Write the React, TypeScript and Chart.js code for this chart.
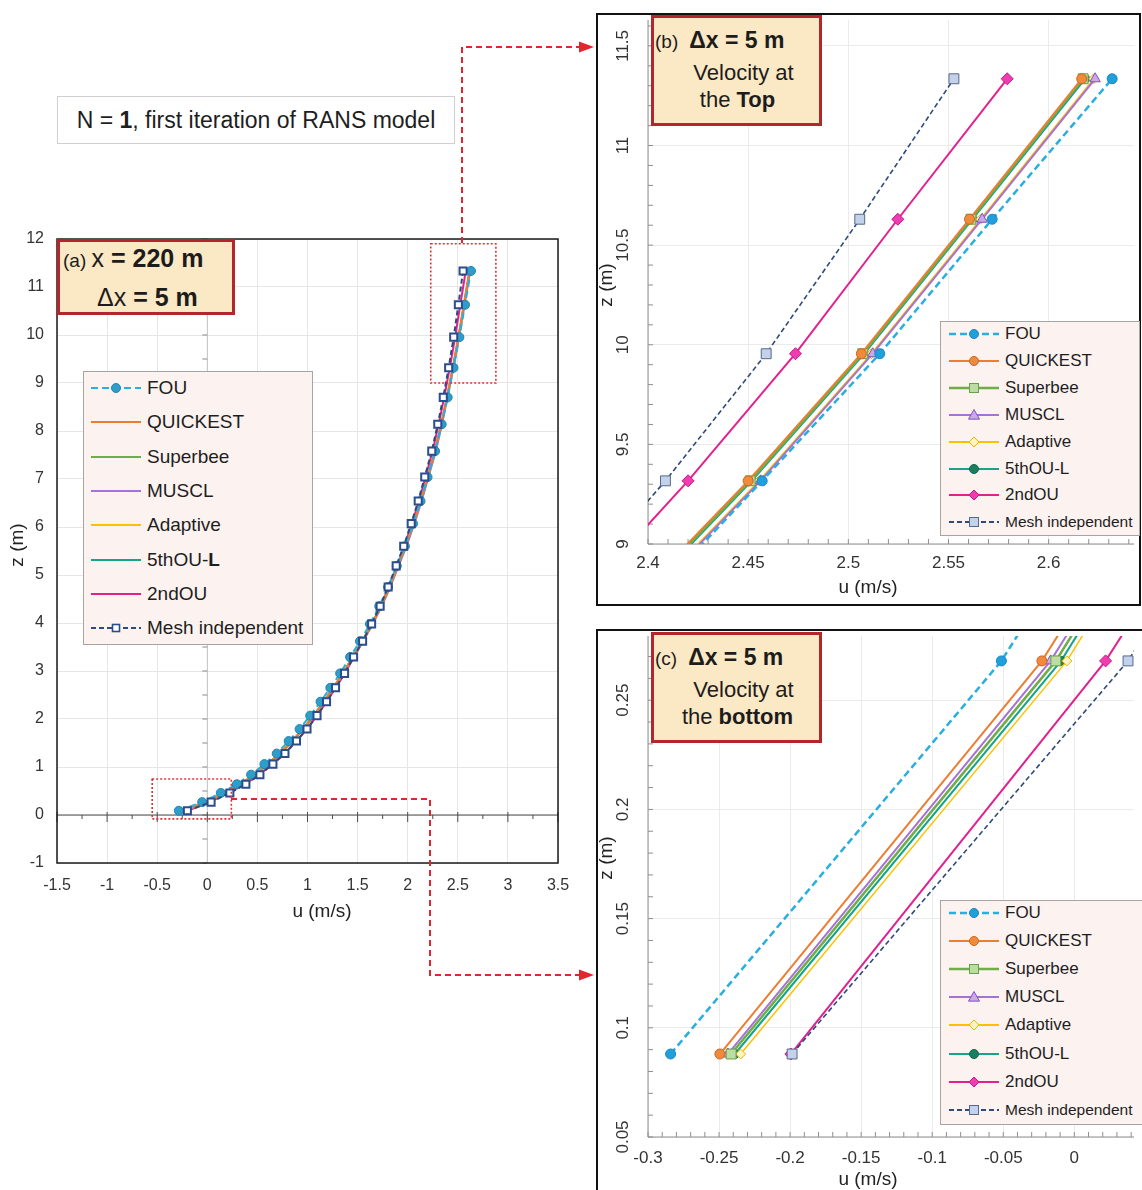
import React, { useEffect, useRef } from 'react';
import { Chart, registerables } from 'chart.js';

Chart.register(...registerables);

const FONT = '"Liberation Sans", Arial, Helvetica, sans-serif';

const SCHEMES = ['FOU', 'QUICKEST', 'Superbee', 'MUSCL', 'Adaptive', '5thOU-L', '2ndOU', 'Mesh independent'];

// vertical grid levels of the first RANS iteration (m)
const Z_LEVELS = [0.088, 0.268, 0.46, 0.64, 0.84, 1.06, 1.28, 1.54, 1.79, 2.07, 2.36, 2.65, 2.95, 3.29, 3.62, 3.98, 4.35, 4.75, 5.19, 5.6, 6.07, 6.54, 7.04, 7.58, 8.14, 8.7, 9.317, 9.955, 10.63, 11.335];

// streamwise velocity u (m/s) at x = 220 m for each advection scheme
const U_FOU = [-0.2841, -0.0513, 0.135, 0.295, 0.437, 0.57, 0.693, 0.812, 0.921, 1.027, 1.13, 1.228, 1.326, 1.425, 1.524, 1.623, 1.716, 1.804, 1.891, 1.972, 2.053, 2.128, 2.198, 2.273, 2.339, 2.399, 2.457, 2.5157, 2.5718, 2.6317];
const U_QUICKEST = [-0.2494, -0.0228, 0.163, 0.324, 0.466, 0.599, 0.723, 0.842, 0.952, 1.058, 1.159, 1.255, 1.352, 1.449, 1.545, 1.641, 1.731, 1.816, 1.9, 1.979, 2.057, 2.13, 2.198, 2.271, 2.334, 2.391, 2.45, 2.5065, 2.5605, 2.6165];
const U_SUPERBEE = [-0.2415, -0.013, 0.171, 0.332, 0.473, 0.605, 0.729, 0.847, 0.956, 1.062, 1.162, 1.258, 1.354, 1.451, 1.547, 1.642, 1.732, 1.817, 1.901, 1.98, 2.058, 2.131, 2.199, 2.272, 2.335, 2.392, 2.451, 2.5072, 2.5612, 2.6172];
const U_MUSCL = [-0.2438, -0.0167, 0.168, 0.33, 0.472, 0.605, 0.73, 0.849, 0.959, 1.066, 1.167, 1.264, 1.361, 1.458, 1.554, 1.65, 1.74, 1.825, 1.909, 1.988, 2.066, 2.139, 2.207, 2.28, 2.342, 2.397, 2.4562, 2.5122, 2.5668, 2.6232];
const U_ADAPTIVE = [-0.2348, -0.0052, 0.177, 0.338, 0.479, 0.611, 0.735, 0.853, 0.962, 1.068, 1.168, 1.264, 1.36, 1.459, 1.555, 1.651, 1.74, 1.824, 1.906, 1.985, 2.064, 2.137, 2.205, 2.278, 2.341, 2.396, 2.4555, 2.5115, 2.566, 2.6225];
const U_5THOU_L = [-0.2389, -0.0093, 0.174, 0.335, 0.476, 0.608, 0.731, 0.849, 0.958, 1.063, 1.163, 1.259, 1.355, 1.452, 1.548, 1.643, 1.733, 1.818, 1.902, 1.981, 2.059, 2.132, 2.2, 2.273, 2.336, 2.393, 2.4518, 2.508, 2.562, 2.6182];
const U_2NDOU = [-0.1995, 0.022, 0.211, 0.373, 0.515, 0.647, 0.769, 0.886, 0.993, 1.095, 1.191, 1.282, 1.373, 1.464, 1.555, 1.645, 1.731, 1.811, 1.892, 1.967, 2.042, 2.113, 2.178, 2.248, 2.309, 2.364, 2.42, 2.4736, 2.5247, 2.5793];
const U_MESH = [-0.1986, 0.0378, 0.225, 0.385, 0.525, 0.655, 0.775, 0.89, 0.995, 1.095, 1.19, 1.28, 1.37, 1.46, 1.55, 1.64, 1.725, 1.805, 1.885, 1.96, 2.035, 2.105, 2.17, 2.24, 2.3, 2.355, 2.4087, 2.459, 2.5057, 2.5527];

const PROFILES = [U_FOU, U_QUICKEST, U_SUPERBEE, U_MUSCL, U_ADAPTIVE, U_5THOU_L, U_2NDOU, U_MESH];

const X_TICKS_A = [-1.5, -1, -0.5, 0, 0.5, 1, 1.5, 2, 2.5, 3, 3.5];
const Y_TICKS_A = [-1, 0, 1, 2, 3, 4, 5, 6, 7, 8, 9, 10, 11, 12];
const X_TICKS_B = [2.4, 2.45, 2.5, 2.55, 2.6];
const Y_TICKS_B = [9, 9.5, 10, 10.5, 11, 11.5];
const X_TICKS_C = [-0.3, -0.25, -0.2, -0.15, -0.1, -0.05, 0];
const Y_TICKS_C = [0.05, 0.1, 0.15, 0.2, 0.25];

type Style = { line: string; width: number; dash: number[]; shape: string; fill: string; edge: string; r: number };

const STYLES: Style[] = [
  { line: '#29aee0', width: 2.5, dash: [7, 4], shape: 'circle', fill: '#1f9fdc', edge: '#1a86c2', r: 5 },
  { line: '#ed7d31', width: 2, dash: [], shape: 'circle', fill: '#f08a3c', edge: '#cf651b', r: 5 },
  { line: '#70ad47', width: 2.5, dash: [], shape: 'rect', fill: '#bbdca3', edge: '#68a343', r: 7 },
  { line: '#a672d6', width: 2, dash: [], shape: 'triangle', fill: '#caa9ea', edge: '#8551bf', r: 6 },
  { line: '#ffc000', width: 1.5, dash: [], shape: 'rectRot', fill: '#fff3c4', edge: '#f0b400', r: 5 },
  { line: '#15a488', width: 2, dash: [], shape: 'circle', fill: '#17805f', edge: '#0e684e', r: 4.5 },
  { line: '#e2218f', width: 2, dash: [], shape: 'rectRot', fill: '#ee3db0', edge: '#c8158a', r: 6 },
  { line: '#2e4a7a', width: 1.6, dash: [5, 3], shape: 'rect', fill: '#c3d1ea', edge: '#56698a', r: 7 },
];

const fmt = (v: number) => String(Math.round(v * 1000) / 1000);

function buildDatasets(overview: boolean) {
  return PROFILES.map((u, i) => {
    const s = STYLES[i];
    const marked = !overview || i === 0 || i === 7;
    let fill = s.fill;
    let edge = s.edge;
    let r = s.r;
    let bw = 1;
    if (overview && i === 0) { fill = '#2d9dc9'; edge = '#2384ad'; r = 4.5; }
    if (overview && i === 7) { fill = '#ffffff'; edge = '#2b4d8c'; r = 5; bw = 2; }
    return {
      label: SCHEMES[i],
      data: Z_LEVELS.map((z, k) => ({ x: u[k], y: z })),
      borderColor: s.line,
      borderWidth: overview ? 2 : s.width,
      borderDash: s.dash,
      pointStyle: s.shape,
      pointRadius: marked ? r : 0,
      pointHoverRadius: 0,
      pointBackgroundColor: fill,
      pointBorderColor: edge,
      pointBorderWidth: bw,
      tension: 0,
      fill: false,
      // the mesh-independent reference sits on top of the scheme curves
      order: i === 7 ? -1 : i,
    };
  });
}

function seg(ctx: CanvasRenderingContext2D, x1: number, y1: number, x2: number, y2: number) {
  ctx.beginPath();
  ctx.moveTo(x1, y1);
  ctx.lineTo(x2, y2);
  ctx.stroke();
}

function steps(from: number, to: number, step: number) {
  const n = Math.round((to - from) / step);
  const out: number[] = [];
  for (let k = 0; k <= n; k++) out.push(from + k * step);
  return out;
}

// keep the plot area fixed: no extra room for labels overhanging the ends of an axis
function noOverhang(s: any) {
  s.paddingTop = 0;
  s.paddingBottom = 0;
  s.paddingLeft = 0;
  s.paddingRight = 0;
}

// overview panel decorations: reference axes through the origin, zoom windows, frame, titles
const overviewPlugin = {
  id: 'overviewDecor',
  beforeDatasetsDraw(chart: any) {
    const { ctx, chartArea: a, scales } = chart;
    const x = scales.x;
    const y = scales.y;
    ctx.save();
    const y0 = y.getPixelForValue(0);
    const x0 = x.getPixelForValue(0);
    ctx.strokeStyle = '#c4c4c4';
    ctx.lineWidth = 1;
    seg(ctx, x0, a.top, x0, a.bottom);
    ctx.strokeStyle = '#8a8a8a';
    steps(-1, 12, 0.5).forEach((v) => {
      const py = y.getPixelForValue(v);
      seg(ctx, x0 - 5, py, x0, py);
    });
    ctx.strokeStyle = '#4a4a4a';
    seg(ctx, a.left, y0, a.right, y0);
    steps(-1.5, 3.5, 0.25).forEach((v) => {
      const px = x.getPixelForValue(v);
      const major = Math.abs(v * 2 - Math.round(v * 2)) < 1e-6;
      seg(ctx, px, y0 - (major ? 3 : 0), px, y0 + (major ? 7 : 4));
    });
    ctx.restore();
  },
  afterDatasetsDraw(chart: any) {
    const { ctx, scales } = chart;
    const x = scales.x;
    const y = scales.y;
    ctx.save();
    ctx.strokeStyle = '#d8343a';
    ctx.lineWidth = 1.6;
    ctx.setLineDash([2, 2]);
    const boxes = [[2.23, 9.0, 2.88, 11.9], [-0.55, -0.08, 0.24, 0.75]];
    boxes.forEach(([u1, z1, u2, z2]) => {
      const px1 = x.getPixelForValue(u1);
      const px2 = x.getPixelForValue(u2);
      const py1 = y.getPixelForValue(z2);
      const py2 = y.getPixelForValue(z1);
      ctx.strokeRect(px1, py1, px2 - px1, py2 - py1);
    });
    ctx.restore();
  },
  afterDraw(chart: any) {
    const { ctx, chartArea: a } = chart;
    ctx.save();
    ctx.strokeStyle = '#1a1a1a';
    ctx.lineWidth = 1.5;
    ctx.strokeRect(a.left, a.top, a.right - a.left, a.bottom - a.top);
    ctx.fillStyle = '#222';
    ctx.font = `19px ${FONT}`;
    ctx.textAlign = 'center';
    ctx.textBaseline = 'middle';
    ctx.fillText('u (m/s)', 322, 683);
    ctx.translate(18, 316);
    ctx.rotate(-Math.PI / 2);
    ctx.fillText('z (m)', 0, 0);
    ctx.restore();
  },
};

type ZoomOpts = {
  yTicks: number[];
  xMinor: [number, number, number];
  yMinor: [number, number, number];
  xTitle: [number, number];
  yTitle: [number, number];
  frame: [number, number, number, number];
};

function zoomPlugin(o: ZoomOpts) {
  return {
    id: 'zoomDecor',
    beforeDatasetsDraw(chart: any) {
      const { ctx, chartArea: a, scales } = chart;
      const x = scales.x;
      const y = scales.y;
      ctx.save();
      ctx.strokeStyle = '#8f8f8f';
      ctx.lineWidth = 1;
      seg(ctx, a.left, a.top, a.left, a.bottom);
      seg(ctx, a.left, a.bottom, a.right, a.bottom);
      steps(o.xMinor[0], o.xMinor[1], o.xMinor[2]).forEach((v) => {
        const px = x.getPixelForValue(v);
        seg(ctx, px, a.bottom, px, a.bottom - 5);
      });
      steps(o.yMinor[0], o.yMinor[1], o.yMinor[2]).forEach((v) => {
        const py = y.getPixelForValue(v);
        seg(ctx, a.left, py, a.left + 5, py);
      });
      ctx.restore();
    },
    afterDraw(chart: any) {
      const { ctx, scales } = chart;
      const y = scales.y;
      ctx.save();
      ctx.fillStyle = '#333';
      ctx.font = `17px ${FONT}`;
      ctx.textAlign = 'center';
      ctx.textBaseline = 'middle';
      o.yTicks.forEach((v) => {
        ctx.save();
        ctx.translate(27, y.getPixelForValue(v));
        ctx.rotate(-Math.PI / 2);
        ctx.fillText(fmt(v), 0, 0);
        ctx.restore();
      });
      ctx.fillStyle = '#222';
      ctx.font = `19px ${FONT}`;
      ctx.fillText('u (m/s)', o.xTitle[0], o.xTitle[1]);
      ctx.save();
      ctx.translate(o.yTitle[0], o.yTitle[1]);
      ctx.rotate(-Math.PI / 2);
      ctx.fillText('z (m)', 0, 0);
      ctx.restore();
      ctx.strokeStyle = '#111';
      ctx.lineWidth = 2;
      const [fx, fy, fw, fh] = o.frame;
      ctx.strokeRect(fx, fy, fw, fh);
      ctx.restore();
    },
  };
}

function overviewConfig() {
  return {
    type: 'line',
    data: { datasets: buildDatasets(true) },
    options: {
      responsive: false,
      animation: false,
      devicePixelRatio: 1,
      events: [],
      layout: { padding: { top: 10, right: 17, bottom: 4, left: 0 } },
      plugins: { legend: { display: false }, tooltip: { enabled: false } },
      scales: {
        x: {
          type: 'linear', min: -1.5, max: 3.5,
          afterBuildTicks: (s: any) => { s.ticks = X_TICKS_A.map((v) => ({ value: v })); },
          afterFit: (s: any) => { s.height = 62; noOverhang(s); },
          grid: { color: '#e6e6e6', drawTicks: false },
          border: { display: false },
          ticks: { padding: 13, autoSkip: false, maxRotation: 0, color: '#333', font: { family: FONT, size: 16 }, callback: (v: number) => fmt(v) },
        },
        y: {
          type: 'linear', min: -1, max: 12,
          afterBuildTicks: (s: any) => { s.ticks = Y_TICKS_A.map((v) => ({ value: v })); },
          afterFit: (s: any) => { s.width = 57; noOverhang(s); },
          grid: { color: '#e6e6e6', drawTicks: false },
          border: { display: false },
          ticks: { padding: 13, autoSkip: false, color: '#333', font: { family: FONT, size: 16 }, callback: (v: number) => fmt(v) },
        },
      },
    },
    plugins: [overviewPlugin],
  };
}

function zoomConfig(p: {
  xMin: number; xMax: number; yMin: number; yMax: number; xTicks: number[]; yTicks: number[];
  padRight: number; xHeight: number; tickPad: number; decor: ZoomOpts;
}) {
  return {
    type: 'line',
    data: { datasets: buildDatasets(false) },
    options: {
      responsive: false,
      animation: false,
      devicePixelRatio: 1,
      events: [],
      layout: { padding: { top: 2, right: p.padRight, bottom: 0, left: 0 } },
      plugins: { legend: { display: false }, tooltip: { enabled: false } },
      scales: {
        x: {
          type: 'linear', min: p.xMin, max: p.xMax,
          afterBuildTicks: (s: any) => { s.ticks = p.xTicks.map((v) => ({ value: v })); },
          afterFit: (s: any) => { s.height = p.xHeight; noOverhang(s); },
          grid: { color: '#ebebeb', drawTicks: false },
          border: { display: false },
          ticks: { padding: p.tickPad, autoSkip: false, maxRotation: 0, color: '#333', font: { family: FONT, size: 17 }, callback: (v: number) => fmt(v) },
        },
        y: {
          type: 'linear', min: p.yMin, max: p.yMax,
          afterBuildTicks: (s: any) => { s.ticks = p.yTicks.map((v) => ({ value: v })); },
          afterFit: (s: any) => { s.width = 52; noOverhang(s); },
          grid: { color: '#ebebeb', drawTicks: false },
          border: { display: false },
          ticks: { display: false },
        },
      },
    },
    plugins: [zoomPlugin(p.decor)],
  };
}

const topConfig = () => zoomConfig({
  xMin: 2.4, xMax: 2.6426, yMin: 9, yMax: 11.63, xTicks: X_TICKS_B, yTicks: Y_TICKS_B,
  padRight: 3, xHeight: 63, tickPad: 9,
  decor: { yTicks: Y_TICKS_B, xMinor: [2.4, 2.64, 0.01], yMinor: [9, 11.6, 0.1], xTitle: [272, 576], yTitle: [11, 273], frame: [1, 2, 543, 591] },
});

const bottomConfig = () => zoomConfig({
  xMin: -0.3, xMax: 0.042, yMin: 0.05, yMax: 0.2794, xTicks: X_TICKS_C, yTicks: Y_TICKS_C,
  padRight: 0, xHeight: 53, tickPad: 11,
  decor: { yTicks: Y_TICKS_C, xMinor: [-0.3, 0.04, 0.01], yMinor: [0.05, 0.27, 0.01], xTitle: [272, 552], yTitle: [11, 230], frame: [1, 2, 560, 600] },
});

function PanelChart({ left, top, width, height, make }: { left: number; top: number; width: number; height: number; make: () => any }) {
  const ref = useRef<HTMLCanvasElement>(null);
  useEffect(() => {
    const chart = new Chart(ref.current as HTMLCanvasElement, make());
    return () => chart.destroy();
  }, []);
  return <canvas ref={ref} width={width} height={height} style={{ position: 'absolute', left, top, width, height }} />;
}

function Marker({ shape, fill, edge, size, bw }: { shape: string; fill: string; edge: string; size: number; bw: number }) {
  const c = 26;
  const m = 9;
  if (shape === 'circle') return <circle cx={c} cy={m} r={size} fill={fill} stroke={edge} strokeWidth={bw} />;
  if (shape === 'rect') return <rect x={c - size} y={m - size} width={size * 2} height={size * 2} fill={fill} stroke={edge} strokeWidth={bw} />;
  if (shape === 'triangle') return <polygon points={`${c},${m - size} ${c + size},${m + size * 0.75} ${c - size},${m + size * 0.75}`} fill={fill} stroke={edge} strokeWidth={bw} />;
  return <polygon points={`${c},${m - size} ${c + size},${m} ${c},${m + size} ${c - size},${m}`} fill={fill} stroke={edge} strokeWidth={bw} />;
}

function Legend({ left, top, width, height, first, step, fontSize, meshSize, overview }: {
  left: number; top: number; width: number; height: number; first: number; step: number; fontSize: number; meshSize: number; overview: boolean;
}) {
  return (
    <div style={{ position: 'absolute', left, top, width, height, boxSizing: 'border-box', background: '#fcf2f0', border: '1px solid #a5a5a5' }}>
      {SCHEMES.map((name, i) => {
        const s = STYLES[i];
        const cy = first + i * step;
        const fs = i === 7 ? meshSize : fontSize;
        let marker: any = null;
        if (!overview) {
          const sz = s.shape === 'rect' ? 4.5 : s.shape === 'triangle' ? 5.5 : s.shape === 'rectRot' ? 5 : 4.5;
          marker = <Marker shape={s.shape} fill={s.fill} edge={s.edge} size={sz} bw={1} />;
        } else if (i === 0) {
          marker = <Marker shape="circle" fill="#2d9dc9" edge="#2384ad" size={4.5} bw={1} />;
        } else if (i === 7) {
          marker = <Marker shape="rect" fill="#ffffff" edge="#2b4d8c" size={3.5} bw={1.6} />;
        }
        const label = overview && i === 5 ? <>5thOU-<b>L</b></> : name;
        return (
          <React.Fragment key={name}>
            <svg width={54} height={18} style={{ position: 'absolute', left: overview ? 6 : 7, top: cy - 9 }}>
              <line x1={1} y1={9} x2={51} y2={9} stroke={s.line} strokeWidth={overview ? 2 : Math.max(s.width, 2)} strokeDasharray={s.dash.length ? s.dash.join(' ') : undefined} />
              {marker}
            </svg>
            <div style={{ position: 'absolute', left: overview ? 63 : 64, top: cy - 12, height: 24, lineHeight: '24px', fontSize: fs, color: '#1e1e1e', whiteSpace: 'nowrap' }}>{label}</div>
          </React.Fragment>
        );
      })}
    </div>
  );
}

function ZoomTitle({ left, top, tag, last }: { left: number; top: number; tag: string; last: string }) {
  return (
    <div style={{ position: 'absolute', left, top, width: 171, height: 111, boxSizing: 'border-box', border: '3px solid #b5262c', background: '#fbe8c4', color: '#1c1c1c' }}>
      <div style={{ position: 'absolute', left: 1, top: 8, lineHeight: '28px', whiteSpace: 'nowrap' }}>
        <span style={{ fontSize: 19 }}>{tag}</span>
        <b style={{ fontSize: 23, marginLeft: 11 }}>Δx = 5 m</b>
      </div>
      <div style={{ position: 'absolute', left: 14, right: 0, top: 41, lineHeight: '28px', textAlign: 'center', fontSize: 22, whiteSpace: 'nowrap' }}>Velocity at</div>
      <div style={{ position: 'absolute', left: 2, right: 0, top: 68, lineHeight: '28px', textAlign: 'center', fontSize: 22, whiteSpace: 'nowrap' }}>
        the <b>{last}</b>
      </div>
    </div>
  );
}

export default function App() {
  return (
    <div style={{ position: 'absolute', left: 0, top: 0, width: 1142, height: 1190, overflow: 'hidden', background: '#ffffff', fontFamily: FONT }}>
      <div style={{ position: 'absolute', left: 57, top: 96, width: 398, height: 48, boxSizing: 'border-box', border: '1px solid #cfcfcf', fontSize: 23, lineHeight: '46px', textAlign: 'center', color: '#1e1e1e', whiteSpace: 'nowrap' }}>
        N = <b>1</b>, first iteration of RANS model
      </div>

      <PanelChart left={0} top={229} width={575} height={700} make={overviewConfig} />
      <PanelChart left={596} top={12} width={546} height={595} make={topConfig} />
      <PanelChart left={596} top={628} width={546} height={562} make={bottomConfig} />

      <div style={{ position: 'absolute', left: 57, top: 239, width: 178, height: 76, boxSizing: 'border-box', border: '3px solid #b5262c', background: '#fbe8c4', color: '#1c1c1c' }}>
        <div style={{ position: 'absolute', left: 3, top: 1, lineHeight: '30px', whiteSpace: 'nowrap' }}>
          <span style={{ fontSize: 19 }}>(a) </span>
          <span style={{ fontSize: 25 }}>x </span>
          <b style={{ fontSize: 25 }}>= 220 m</b>
        </div>
        <div style={{ position: 'absolute', left: 37, top: 40, lineHeight: '30px', whiteSpace: 'nowrap', fontSize: 25 }}>
          <span>Δx </span>
          <b>= 5 m</b>
        </div>
      </div>

      <ZoomTitle left={651} top={15} tag="(b)" last="Top" />
      <ZoomTitle left={651} top={632} tag="(c)" last="bottom" />

      <Legend left={83} top={371} width={230} height={274} first={16} step={34.3} fontSize={19} meshSize={19} overview={true} />
      <Legend left={940} top={321} width={200} height={215} first={12} step={26.9} fontSize={17} meshSize={15.5} overview={false} />
      <Legend left={940} top={900} width={203} height={225} first={12} step={28.1} fontSize={17} meshSize={15.5} overview={false} />

      <svg width={1142} height={1190} style={{ position: 'absolute', left: 0, top: 0, pointerEvents: 'none' }}>
        <polyline points="462,243 462,47 580,47" fill="none" stroke="#e3262b" strokeWidth={2} strokeDasharray="6 4" />
        <polygon points="594,47 579,41.5 579,52.5" fill="#e3262b" />
        <polyline points="231,799 430,799 430,975 580,975" fill="none" stroke="#e3262b" strokeWidth={2} strokeDasharray="6 4" />
        <polygon points="594,975 579,969.5 579,980.5" fill="#e3262b" />
      </svg>
    </div>
  );
}
